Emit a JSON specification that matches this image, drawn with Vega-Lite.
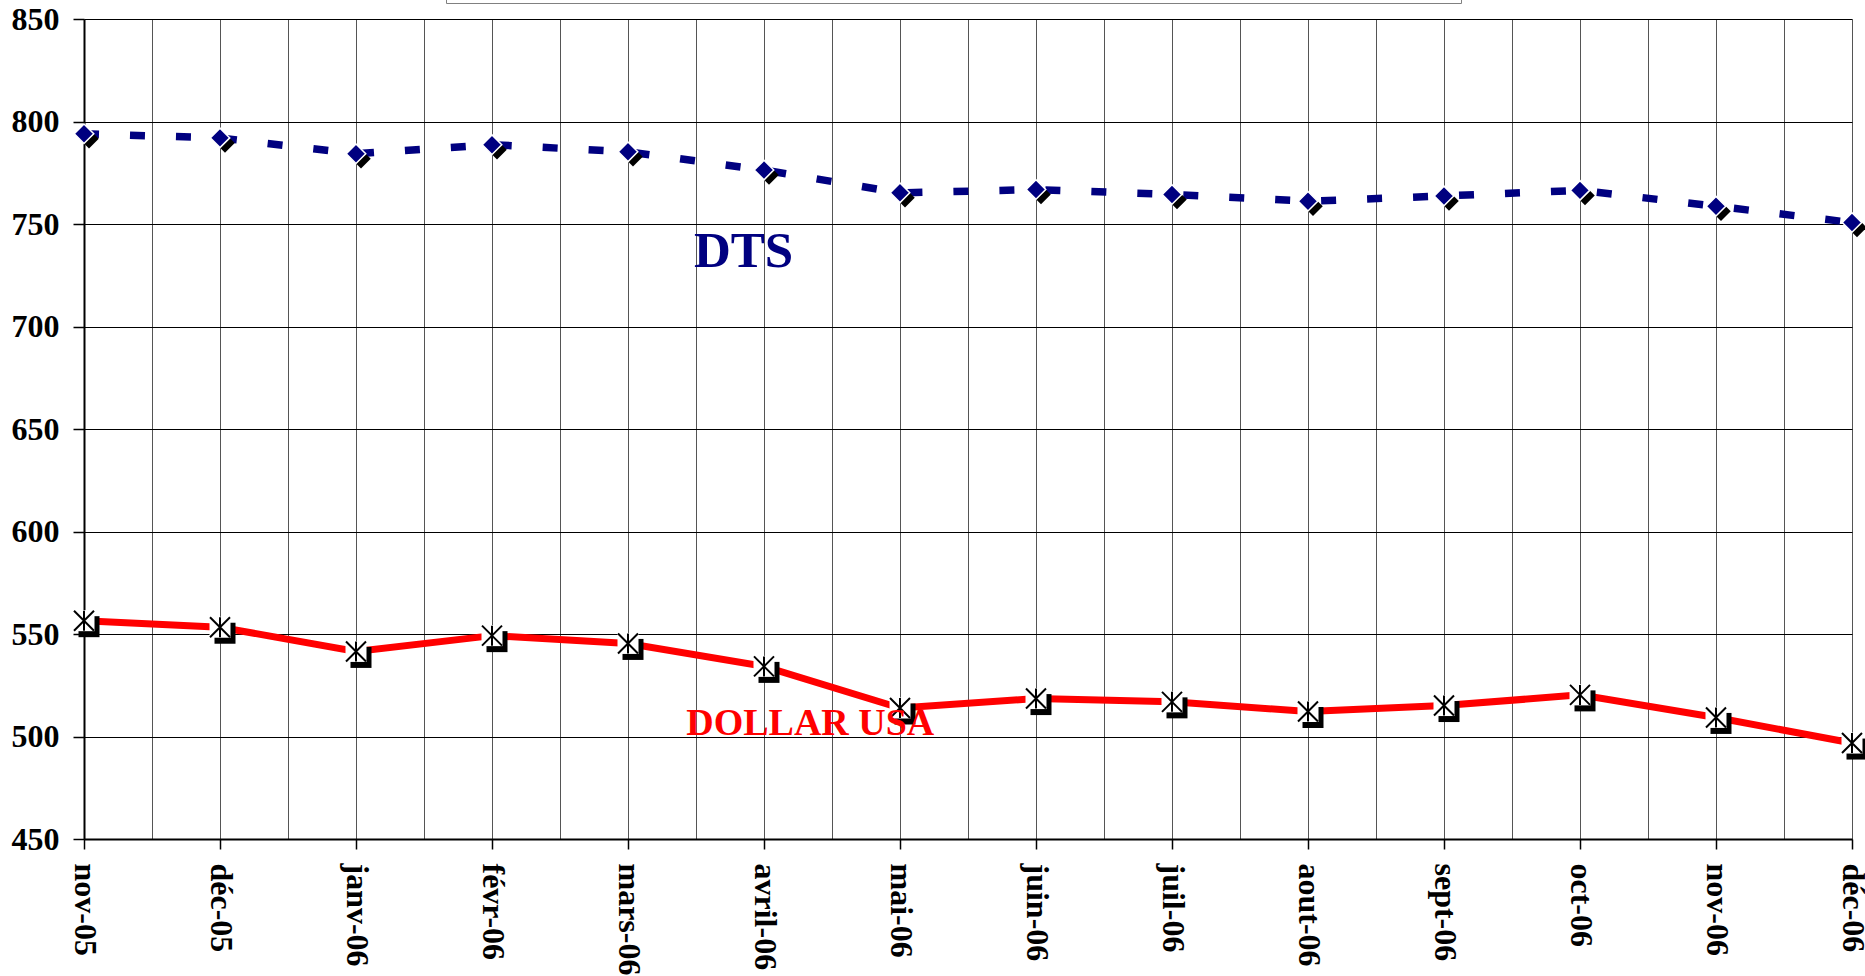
{
  "$schema": "https://vega.github.io/schema/vega-lite/v6.json",
  "width": 1768,
  "height": 820,
  "autosize": {"type": "none"},
  "padding": {"left": 84, "top": 19, "right": 13, "bottom": 137},
  "background": "white",
  "config": {"view": {"stroke": null}, "font": "Liberation Serif"},
  "datasets": {
    "series": [
      {"i": 0, "mois": "nov-05", "serie": "DTS", "valeur": 794.0},
      {"i": 1, "mois": "déc-05", "serie": "DTS", "valeur": 792.0},
      {"i": 2, "mois": "janv-06", "serie": "DTS", "valeur": 784.3},
      {"i": 3, "mois": "févr-06", "serie": "DTS", "valeur": 788.7},
      {"i": 4, "mois": "mars-06", "serie": "DTS", "valeur": 785.2},
      {"i": 5, "mois": "avril-06", "serie": "DTS", "valeur": 776.3},
      {"i": 6, "mois": "mai-06", "serie": "DTS", "valeur": 765.2},
      {"i": 7, "mois": "juin-06", "serie": "DTS", "valeur": 766.8},
      {"i": 8, "mois": "juil-06", "serie": "DTS", "valeur": 764.4},
      {"i": 9, "mois": "aout-06", "serie": "DTS", "valeur": 761.1},
      {"i": 10, "mois": "sept-06", "serie": "DTS", "valeur": 763.7},
      {"i": 11, "mois": "oct-06", "serie": "DTS", "valeur": 766.4},
      {"i": 12, "mois": "nov-06", "serie": "DTS", "valeur": 758.7},
      {"i": 13, "mois": "déc-06", "serie": "DTS", "valeur": 750.7},
      {"i": 0, "mois": "nov-05", "serie": "DOLLAR USA", "valeur": 556.5},
      {"i": 1, "mois": "déc-05", "serie": "DOLLAR USA", "valeur": 553.3},
      {"i": 2, "mois": "janv-06", "serie": "DOLLAR USA", "valeur": 541.5},
      {"i": 3, "mois": "févr-06", "serie": "DOLLAR USA", "valeur": 549.2},
      {"i": 4, "mois": "mars-06", "serie": "DOLLAR USA", "valeur": 545.4},
      {"i": 5, "mois": "avril-06", "serie": "DOLLAR USA", "valeur": 534.2},
      {"i": 6, "mois": "mai-06", "serie": "DOLLAR USA", "valeur": 513.9},
      {"i": 7, "mois": "juin-06", "serie": "DOLLAR USA", "valeur": 518.5},
      {"i": 8, "mois": "juil-06", "serie": "DOLLAR USA", "valeur": 516.9},
      {"i": 9, "mois": "aout-06", "serie": "DOLLAR USA", "valeur": 512.2},
      {"i": 10, "mois": "sept-06", "serie": "DOLLAR USA", "valeur": 515.1},
      {"i": 11, "mois": "oct-06", "serie": "DOLLAR USA", "valeur": 520.3},
      {"i": 12, "mois": "nov-06", "serie": "DOLLAR USA", "valeur": 509.3},
      {"i": 13, "mois": "déc-06", "serie": "DOLLAR USA", "valeur": 496.8}
    ],
    "labels": [
      {"texte": "DTS", "i": 4.85, "valeur": 729},
      {"texte": "DOLLAR USA", "i": 5.34, "valeur": 500.8}
    ]
  },
  "data": {"name": "series"},
  "encoding": {
    "x": {
      "field": "i",
      "type": "quantitative",
      "scale": {"domain": [0, 13], "nice": false, "zero": false},
      "axis": {
        "title": null,
        "values": [0, 0.5, 1, 1.5, 2, 2.5, 3, 3.5, 4, 4.5, 5, 5.5, 6, 6.5, 7, 7.5, 8, 8.5, 9, 9.5, 10, 10.5, 11, 11.5, 12, 12.5, 13],
        "grid": true,
        "gridColor": "#555555",
        "gridWidth": 1,
        "domainColor": "#000000",
        "domainWidth": 2,
        "tickColor": "#000000",
        "tickWidth": 1.5,
        "tickSize": 10,
        "tickOpacity": {"condition": {"test": "datum.value % 1 != 0", "value": 0}, "value": 1},
        "labelAngle": 90,
        "labelAlign": "left",
        "labelBaseline": "middle",
        "labelPadding": 14,
        "labelFont": "Liberation Serif",
        "labelFontSize": 32,
        "labelFontWeight": "bold",
        "labelColor": "#000000",
        "labelOverlap": false,
        "labelBound": false,
        "labelFlush": false,
        "labelExpr": "datum.value % 1 == 0 ? ['nov-05','déc-05','janv-06','févr-06','mars-06','avril-06','mai-06','juin-06','juil-06','aout-06','sept-06','oct-06','nov-06','déc-06'][datum.value] : ''"
      }
    },
    "y": {
      "field": "valeur",
      "type": "quantitative",
      "scale": {"domain": [450, 850], "nice": false, "zero": false},
      "axis": {
        "title": null,
        "values": [450, 500, 550, 600, 650, 700, 750, 800, 850],
        "grid": true,
        "gridColor": "#000000",
        "gridWidth": 1,
        "domainColor": "#000000",
        "domainWidth": 2,
        "tickColor": "#000000",
        "tickWidth": 1.5,
        "tickSize": 11,
        "labelPadding": 14,
        "labelFont": "Liberation Serif",
        "labelFontSize": 32,
        "labelFontWeight": "bold",
        "labelColor": "#000000",
        "labelOverlap": false,
        "labelBound": false,
        "labelFlush": false
      }
    }
  },
  "layer": [
    {
      "transform": [{"filter": "datum.serie == 'DTS'"}],
      "mark": {"type": "line", "strokeWidth": 7.5, "strokeDash": [15, 31], "strokeCap": "butt"},
      "encoding": {
        "color": {
          "field": "serie",
          "type": "nominal",
          "scale": {"domain": ["DTS", "DOLLAR USA"], "range": ["#000080", "#FF0000"]},
          "legend": {
            "orient": "none",
            "direction": "horizontal",
            "legendX": 362,
            "legendY": -60,
            "title": null,
            "padding": 14,
            "strokeColor": "#808080",
            "fillColor": "#FFFFFF",
            "columnPadding": 810,
            "symbolType": "stroke",
            "symbolSize": 100,
            "labelFont": "Liberation Serif",
            "labelFontSize": 16,
            "labelFontWeight": "bold",
            "labelLimit": 300
          }
        }
      }
    },
    {
      "transform": [{"filter": "datum.serie == 'DOLLAR USA'"}],
      "mark": {"type": "line", "strokeWidth": 7},
      "encoding": {
        "color": {"field": "serie", "type": "nominal"}
      }
    },
    {
      "transform": [{"filter": "datum.serie == 'DTS'"}],
      "mark": {"type": "point", "shape": "diamond", "filled": true, "fill": "#000000", "opacity": 1, "size": 380, "xOffset": 5, "yOffset": 5}
    },
    {
      "transform": [{"filter": "datum.serie == 'DTS'"}],
      "mark": {"type": "point", "shape": "diamond", "filled": true, "fill": "#000080", "stroke": "#FFFFFF", "strokeWidth": 1.5, "opacity": 1, "size": 380}
    },
    {
      "transform": [{"filter": "datum.serie == 'DOLLAR USA'"}],
      "mark": {"type": "point", "shape": "square", "filled": true, "fill": "#000000", "opacity": 1, "size": 441, "xOffset": 5, "yOffset": 6}
    },
    {
      "transform": [{"filter": "datum.serie == 'DOLLAR USA'"}],
      "mark": {"type": "point", "shape": "square", "filled": true, "fill": "#FFFFFF", "opacity": 1, "size": 441}
    },
    {
      "transform": [{"filter": "datum.serie == 'DOLLAR USA'"}],
      "mark": {"type": "point", "shape": "M-1,-1L1,1M1,-1L-1,1M0,-1L0,1", "filled": false, "stroke": "#000000", "strokeWidth": 2, "opacity": 1, "size": 400}
    },
    {
      "data": {"name": "labels"},
      "transform": [{"filter": "datum.texte == 'DTS'"}],
      "mark": {"type": "text", "font": "Liberation Serif", "fontWeight": "bold", "fontSize": 51, "color": "#000080", "align": "center", "baseline": "alphabetic"},
      "encoding": {"text": {"field": "texte"}}
    },
    {
      "data": {"name": "labels"},
      "transform": [{"filter": "datum.texte == 'DOLLAR USA'"}],
      "mark": {"type": "text", "font": "Liberation Serif", "fontWeight": "bold", "fontSize": 38, "color": "#FF0000", "align": "center", "baseline": "alphabetic"},
      "encoding": {"text": {"field": "texte"}}
    }
  ]
}
